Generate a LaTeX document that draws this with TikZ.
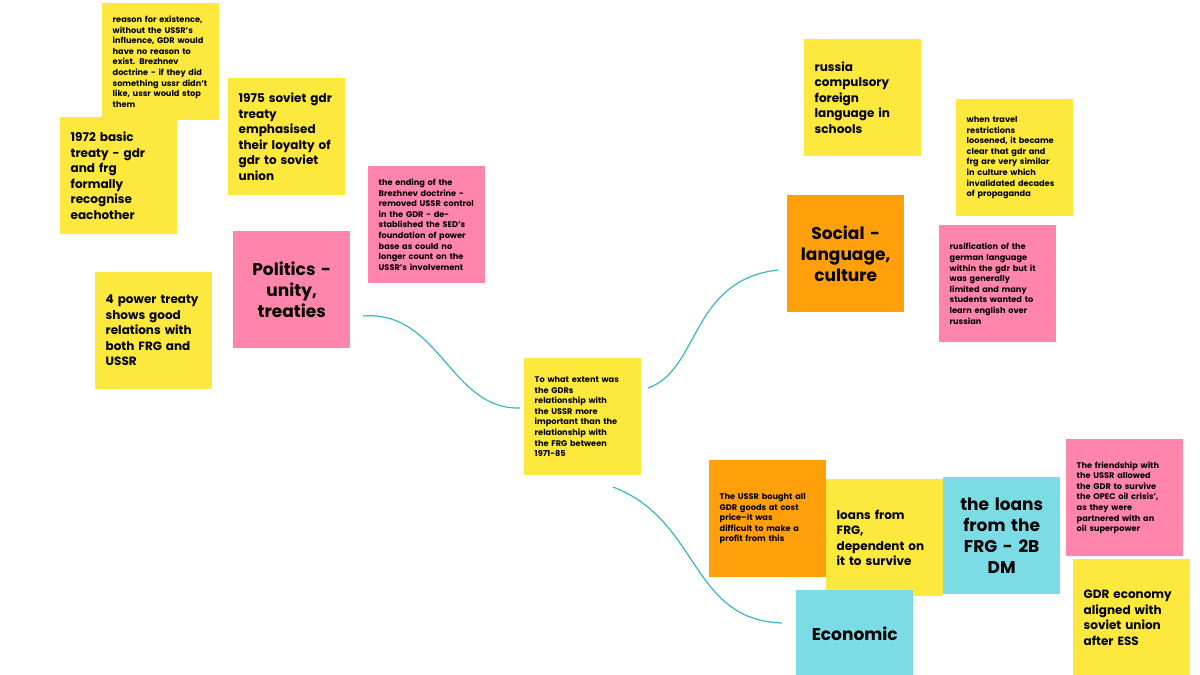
\documentclass[tikz,border=0pt]{standalone}
\usepackage{fontspec}
\setmainfont{Poppins}
\definecolor{yy}{RGB}{253, 232, 62}
\definecolor{pp}{RGB}{255, 133, 173}
\definecolor{oo}{RGB}{255, 159, 10}
\definecolor{bb}{RGB}{124, 220, 230}
\definecolor{ln}{RGB}{58, 181, 200}
\tikzset{
  note/.style={rectangle, anchor=north west, minimum width=117pt, minimum height=117pt, inner sep=0pt, align=left, text width=96pt},
  small/.style={note, font=\fontsize{8.2}{10.6}\selectfont\bfseries},
  mid/.style={note, font=\fontsize{12}{15.5}\selectfont\bfseries},
  big/.style={note, align=center, font=\fontsize{17}{21}\selectfont\bfseries},
  link/.style={line width=1.2pt, color=ln}
}
\begin{document}
\begin{tikzpicture}[x=1pt, y=1pt]
\useasboundingbox (0,0) rectangle (1200,-675);
\node (exist) [small, fill=yy] at (102, -3) {reason for existence,\\without the USSR's\\influence, GDR would\\have no reason to\\exist. Brezhnev\\doctrine - if they did\\something ussr didn't\\like, ussr would stop\\them};
\node (basic) [mid, fill=yy] at (60, -117) {1972 basic\\treaty - gdr\\and frg\\formally\\recognise\\eachother};
\node (soviet) [mid, fill=yy] at (228, -78) {1975 soviet gdr\\treaty\\emphasised\\their loyalty of\\gdr to soviet\\union};
\node (politics) [big, fill=pp] at (233, -231) {Politics -\\unity,\\treaties};
\node (power) [mid, fill=yy] at (95, -272) {4 power treaty\\shows good\\relations with\\both FRG and\\USSR};
\node (ending) [small, fill=pp] at (368, -166) {the ending of the\\Brezhnev doctrine -\\removed USSR control\\in the GDR - de-\\stablished the SED's\\foundation of power\\base as could no\\longer count on the\\USSR's involvement};
\node (question) [small, fill=yy] at (524, -358) {To what extent was\\the GDRs\\relationship with\\the USSR more\\important than the\\relationship with\\the FRG between\\1971-85};
\node (russia) [mid, fill=yy] at (804, -39) {russia\\compulsory\\foreign\\language in\\schools};
\node (travel) [small, fill=yy] at (956, -99) {when travel\\restrictions\\loosened, it became\\clear that gdr and\\frg are very similar\\in culture which\\invalidated decades\\of propaganda};
\node (social) [big, fill=oo] at (787, -195) {Social -\\language,\\culture};
\node (rusif) [small, fill=pp] at (939, -225) {rusification of the\\german language\\within the gdr but it\\was generally\\limited and many\\students wanted to\\learn english over\\russian};
\node (bought) [small, fill=oo] at (709, -460) {The USSR bought all\\GDR goods at cost\\price--it was\\difficult to make a\\profit from this};
\node (loans) [mid, fill=yy] at (826, -479) {loans from\\FRG,\\dependent on\\it to survive};
\node (frgloans) [big, fill=bb] at (943, -477) {the loans\\from the\\FRG - 2B\\DM};
\node (friend) [small, fill=pp] at (1066, -439) {The friendship with\\the USSR allowed\\the GDR to survive\\the OPEC oil crisis',\\as they were\\partnered with an\\oil superpower};
\node (aligned) [mid, fill=yy] at (1073, -559) {GDR economy\\aligned with\\soviet union\\after ESS};
\node (economic) [big, fill=bb, minimum height=85pt] at (796, -590) {\raisebox{-16pt}{Economic}};
\coordinate (p1) at (363, -316);
\coordinate (q1) at (520, -408);
\coordinate (q2) at (648, -388);
\coordinate (s1) at (778, -270);
\coordinate (q3) at (613, -487);
\coordinate (e1) at (782, -623);
\draw [link] (p1) .. controls (440, -310) and (450, -410) .. (q1);
\draw [link] (q2) .. controls (700, -370) and (690, -280) .. (s1);
\draw [link] (q3) .. controls (700, -520) and (690, -620) .. (e1);
\end{tikzpicture}
\end{document}
